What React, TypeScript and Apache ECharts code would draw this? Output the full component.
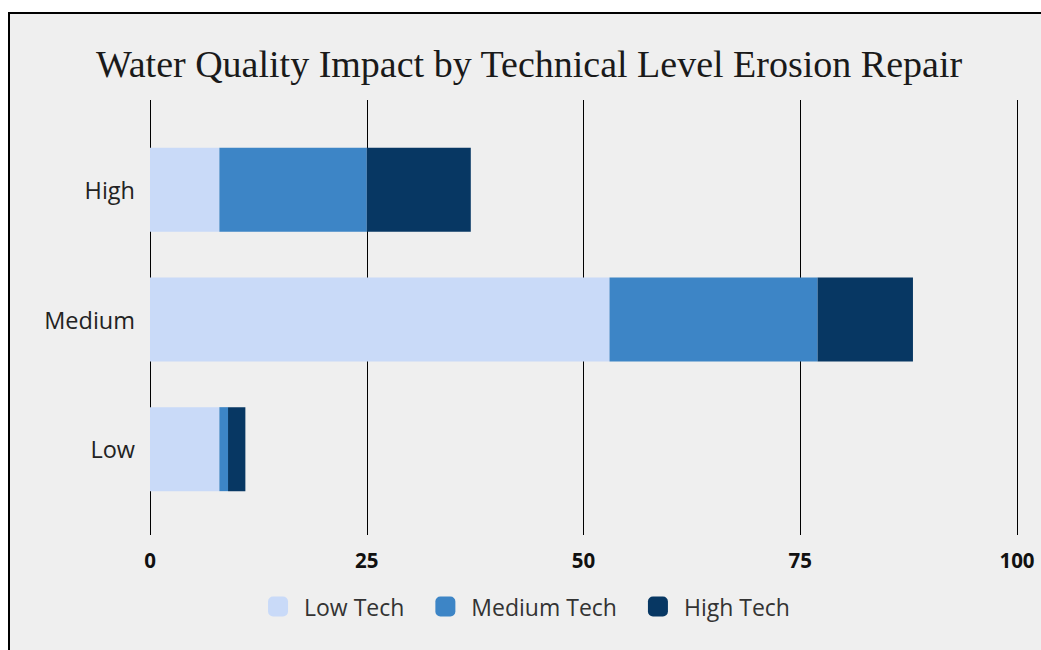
import React, { useEffect, useRef } from "react";
import * as echarts from "echarts";

const categories = ["Low", "Medium", "High"];
const lowTech = [8, 53, 8];
const mediumTech = [1, 24, 17];
const highTech = [2, 11, 12];
const seriesNames = ["Low Tech", "Medium Tech", "High Tech"];
const colors = ["#c9daf8", "#3d85c6", "#073763"];
const xTicks = { min: 0, max: 100, interval: 25 };

export default function App() {
  const ref = useRef<HTMLDivElement>(null);
  useEffect(() => {
    if (!ref.current) return;
    document.body.style.overflow = "hidden";
    const chart = echarts.init(ref.current, null, { renderer: "svg" });
    const sans = "'Open Sans', 'Noto Sans', sans-serif";
    const data = [lowTech, mediumTech, highTech];
    chart.setOption({
      animation: false,
      backgroundColor: "#efefef",
      title: {
        text: "Water Quality Impact by Technical Level Erosion Repair",
        left: "center",
        top: 26,
        textStyle: {
          fontFamily: "'Liberation Serif', serif",
          fontSize: 38,
          fontWeight: "normal",
          color: "#1a1a1a",
        },
      },
      legend: {
        bottom: 31,
        left: "center",
        itemWidth: 20,
        itemHeight: 20,
        itemGap: 31,
        icon: "roundRect",
        textStyle: {
          fontFamily: sans,
          fontSize: 23,
          color: "#333",
          padding: [0, 0, 0, 11],
        },
        data: seriesNames,
      },
      grid: [
        { left: 140, right: 31, top: 86, bottom: 119 },
        { left: 140, right: 31, top: 111, bottom: 140 },
      ],
      xAxis: [
        {
          type: "value",
          gridIndex: 0,
          min: xTicks.min,
          max: xTicks.max,
          interval: xTicks.interval,
          axisLine: { show: false },
          axisTick: { show: false },
          splitLine: { show: true, lineStyle: { color: "#000", width: 1 } },
          axisLabel: {
            margin: 14,
            fontFamily: sans,
            fontSize: 20.5,
            fontWeight: "bold",
            color: "#111",
          },
        },
        {
          type: "value",
          gridIndex: 1,
          min: xTicks.min,
          max: xTicks.max,
          interval: xTicks.interval,
          show: false,
          splitLine: { show: false },
        },
      ],
      yAxis: [
        {
          type: "category",
          gridIndex: 0,
          data: [""],
          show: false,
        },
        {
          type: "category",
          gridIndex: 1,
          data: categories,
          axisLine: { show: false },
          axisTick: { show: false },
          axisLabel: {
            margin: 15,
            fontFamily: sans,
            fontSize: 23.5,
            color: "#222",
          },
        },
      ],
      series: seriesNames.map((name, i) => ({
        name,
        type: "bar",
        stack: "total",
        xAxisIndex: 1,
        yAxisIndex: 1,
        barWidth: 84,
        itemStyle: { color: colors[i] },
        data: data[i],
      })),
    });
    return () => chart.dispose();
  }, []);
  return (
    <div
      style={{
        position: "fixed",
        left: 8,
        top: 12,
        width: 1033,
        height: 638,
        overflow: "hidden",
      }}
    >
      <div
        style={{
          width: 1060,
          height: 660,
          border: "2px solid #000",
          background: "#efefef",
          boxSizing: "border-box",
        }}
      >
        <div ref={ref} style={{ width: 1038, height: 640 }} />
      </div>
    </div>
  );
}
